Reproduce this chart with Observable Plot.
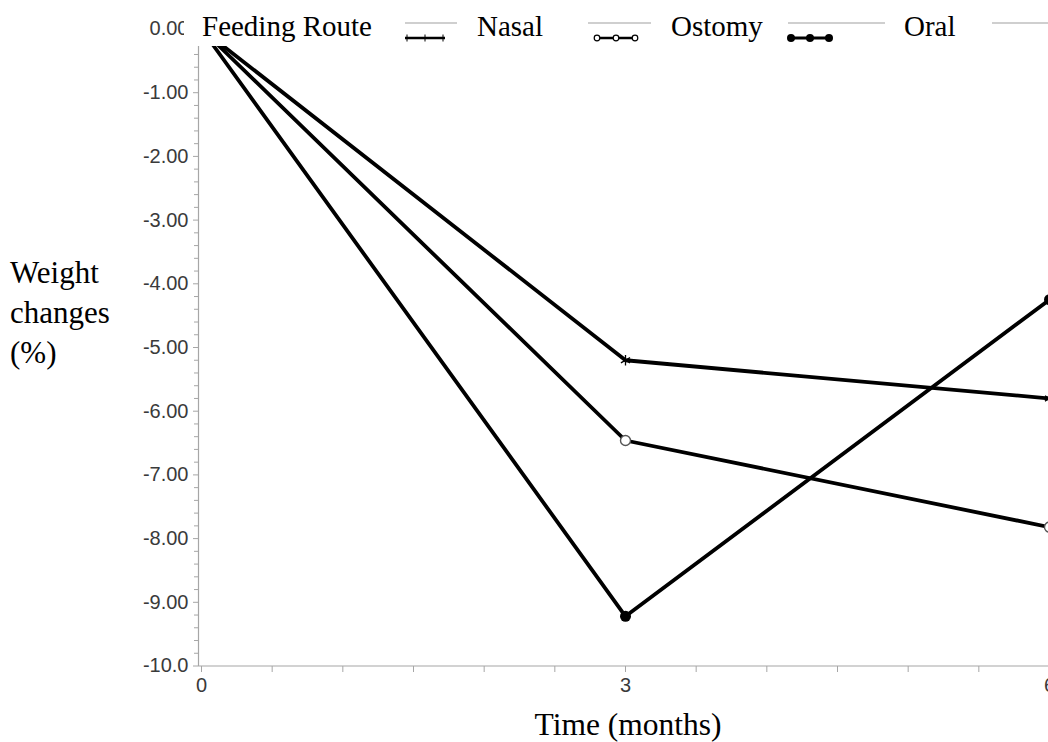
<!DOCTYPE html>
<html><head><meta charset="utf-8">
<script src="https://cdn.jsdelivr.net/npm/d3@7"></script>
<script src="https://cdn.jsdelivr.net/npm/@observablehq/plot@0.6"></script>
<style>
html,body{margin:0;padding:0;background:#fff;overflow:hidden;}
#wrap{position:relative;width:1048px;height:742px;overflow:hidden;}
#overlay{position:absolute;left:0;top:0;pointer-events:none;}
</style></head><body><div id="wrap"></div>
<script>
// ---- data ----
const months = [0, 3, 6];
const routes = ["Nasal", "Ostomy", "Oral"];
const nasal = [0, -5.20, -5.80];
const ostomy = [0, -6.46, -7.82];
const oral = [0, -9.22, -4.25];
const yTicks = [0, -1, -2, -3, -4, -5, -6, -7, -8, -9, -10];
const yTickLabels = ["0.00", "-1.00", "-2.00", "-3.00", "-4.00", "-5.00", "-6.00", "-7.00", "-8.00", "-9.00", "-10.0"];
const xTicks = [0, 3, 6];
const xTickLabels = ["0", "3", "6"];
const legendTitle = "Feeding Route";
const xTitle = "Time (months)";
const yTitleLines = ["Weight", "changes", "(%)"];

const seriesValues = {Nasal: nasal, Ostomy: ostomy, Oral: oral};
const data = routes.flatMap(r => months.map((m, i) => ({route: r, month: m, change: seriesValues[r][i]})));

const yMinor = d3.range(0, 51).map(i => -i * 0.2).filter(v => Math.abs(v - Math.round(v)) > 1e-6);
const xMinor = d3.range(0, 13).map(i => i * 0.5).filter(v => v % 3 !== 0);

const axisGray = "#a6a6a6";
const textGray = "#3a3a3a";
const sans = "'Liberation Sans', Arial, sans-serif";

const chart = Plot.plot({
  width: 1048,
  height: 742,
  marginLeft: 198,
  marginRight: 0,
  marginTop: 28,
  marginBottom: 76,
  style: {background: "white", overflow: "hidden", fontFamily: sans, fontSize: "20px"},
  x: {domain: [0, 6], range: [201, 1049]},
  y: {domain: [-10, 0], range: [665.5, 28.5]},
  marks: [
    Plot.ruleY([-10], {stroke: axisGray, strokeWidth: 1.2}),
    Plot.ruleX([0], {stroke: axisGray, strokeWidth: 1.2, dx: -3}),
    Plot.axisY(yMinor, {tickSize: 4, tickFormat: () => "", label: null, stroke: axisGray}),
    Plot.axisY(yTicks, {tickSize: 5, tickPadding: 5, label: null, stroke: axisGray, fill: textGray, fontSize: 20,
      tickFormat: d => yTickLabels[yTicks.indexOf(d)]}),
    Plot.axisX(xMinor, {tickSize: 6, tickFormat: () => "", label: null, stroke: axisGray}),
    Plot.axisX(xTicks, {tickSize: 6, tickPadding: 5, label: null, stroke: axisGray, fill: textGray, fontSize: 20,
      tickFormat: d => xTickLabels[xTicks.indexOf(d)]}),
    Plot.line(data, {x: "month", y: "change", z: "route", stroke: "black", strokeWidth: 3.8}),
    Plot.dot(data.filter(d => d.route === "Nasal"), {x: "month", y: "change", symbol: "asterisk", r: 5, stroke: "black", strokeWidth: 1.3}),
    Plot.dot(data.filter(d => d.route === "Ostomy"), {x: "month", y: "change", symbol: "circle", r: 5, stroke: "#555", fill: "white", strokeWidth: 1.4}),
    Plot.dot(data.filter(d => d.route === "Oral"), {x: "month", y: "change", symbol: "circle", r: 5.5, fill: "black"})
  ]
});
document.getElementById("wrap").appendChild(chart);

// ---- overlay: legend and axis titles ----
const ns = "http://www.w3.org/2000/svg";
const ov = document.createElementNS(ns, "svg");
ov.setAttribute("id", "overlay");
ov.setAttribute("width", 1048);
ov.setAttribute("height", 742);
function el(tag, attrs, text) {
  const e = document.createElementNS(ns, tag);
  for (const k in attrs) e.setAttribute(k, attrs[k]);
  if (text != null) e.textContent = text;
  ov.appendChild(e);
  return e;
}
const serif = "'Liberation Serif', 'Times New Roman', serif";
// legend background
el("rect", {x: 184, y: 0, width: 864, height: 46, fill: "white"});
el("text", {x: 202, y: 36, "font-family": serif, "font-size": 29, fill: "black"}, legendTitle);
// grey sample lines
[[405, 457], [588, 651], [788, 885], [992, 1048]].forEach(([a, b]) =>
  el("line", {x1: a, x2: b, y1: 23, y2: 23, stroke: "#a0a0a0", "stroke-width": 1.2}));
// Nasal swatch
el("line", {x1: 405, x2: 445, y1: 38, y2: 38, stroke: "black", "stroke-width": 2.5});
[407, 425, 443].forEach(x => el("line", {x1: x, x2: x, y1: 34.5, y2: 41.5, stroke: "black", "stroke-width": 1}));
el("text", {x: 477, y: 36, "font-family": serif, "font-size": 29, fill: "black"}, routes[0]);
// Ostomy swatch
el("line", {x1: 595, x2: 637, y1: 38, y2: 38, stroke: "black", "stroke-width": 2.5});
[597, 616, 635].forEach(x => el("circle", {cx: x, cy: 38, r: 2.8, fill: "white", stroke: "black", "stroke-width": 1.2}));
el("text", {x: 671, y: 36, "font-family": serif, "font-size": 29, fill: "black"}, routes[1]);
// Oral swatch
el("line", {x1: 789, x2: 830, y1: 38, y2: 38, stroke: "black", "stroke-width": 3.2});
[791, 810, 829].forEach(x => el("circle", {cx: x, cy: 38, r: 4, fill: "black"}));
el("text", {x: 904, y: 36, "font-family": serif, "font-size": 29, fill: "black"}, routes[2]);
// y title
yTitleLines.forEach((t, i) =>
  el("text", {x: 10, y: 283 + i * 40, "font-family": serif, "font-size": 31, fill: "black"}, t));
// x title
el("text", {x: 628, y: 735, "text-anchor": "middle", "font-family": serif, "font-size": 31.5, fill: "black"}, xTitle);
document.getElementById("wrap").appendChild(ov);
</script>
</body></html>
